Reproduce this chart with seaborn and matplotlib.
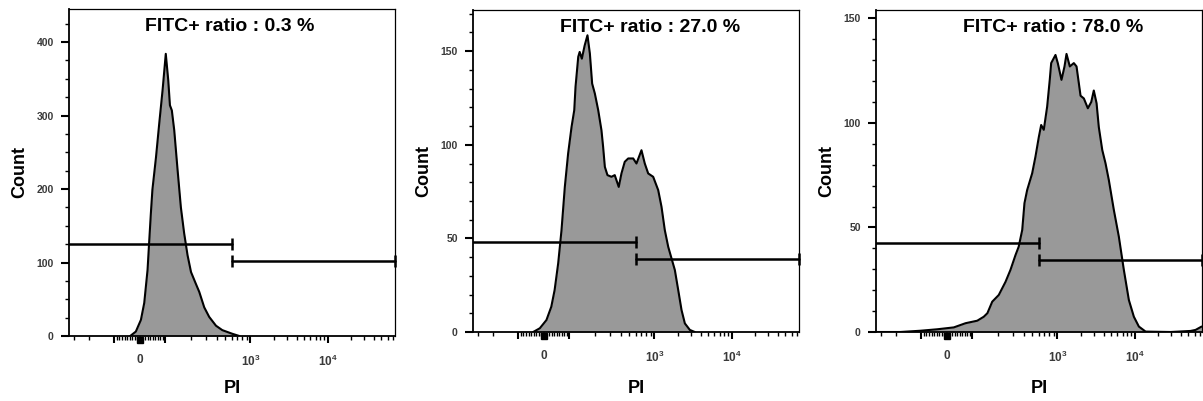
import numpy as np
import seaborn as sns
import matplotlib.pyplot as plt
from matplotlib.ticker import FixedLocator, MultipleLocator

sns.set_theme(style="ticks")
plt.rcParams['font.family'] = ['Liberation Sans', 'DejaVu Sans']
plt.rcParams['font.weight'] = 'bold'
plt.rcParams['text.color'] = 'black'
plt.rcParams['axes.labelcolor'] = 'black'
plt.rcParams['mathtext.fontset'] = 'custom'
plt.rcParams['mathtext.rm'] = 'Liberation Sans'
plt.rcParams['mathtext.bf'] = 'Liberation Sans:bold'
plt.rcParams['mathtext.default'] = 'bf'

# PI histograms (PI intensity, event count)
pi_a = [-38, -16, 4, 17, 30, 36, 43, 49, 63, 76, 89, 101, 108, 113, 119, 127, 139, 152, 166,
        182, 200, 228, 250, 286, 327, 393, 466, 612, 739]
count_a = [0, 6, 22, 45, 90, 126, 167, 199, 243, 290, 335, 384, 348, 314, 307, 280, 226, 175,
           140, 110, 87, 71, 60, 39, 26, 14, 8, 3, 0]

pi_b = [-42, -16, 10, 29, 42, 56, 69, 82, 95, 106, 114, 118, 127, 132, 140, 151, 163, 174, 185,
        199, 218, 238, 249, 261, 280, 312, 341, 380, 409, 447, 491, 562, 614, 703, 769, 843, 965,
        1117, 1233, 1361, 1507, 1837, 2032, 2244, 2477, 2877, 3334]
count_b = [0, 2, 6.4, 13.5, 22.4, 36.7, 54.4, 77.5, 95.4, 109.6, 118.5, 131, 147, 149.6, 146, 153,
           158.5, 148.7, 132.7, 127.4, 118.5, 107.8, 98.9, 88.2, 83.8, 82.9, 83.8, 77.5, 84.7, 90.9,
           92.7, 92.7, 90, 97.1, 90, 84.7, 82.9, 75.8, 66.9, 54.4, 45.5, 33.1, 22.4, 11.7, 4.6, 1.1, 0]

pi_c = [-339, -177, -103, -38, 27, 73, 114, 136, 150, 171, 204, 245, 280, 321, 350, 385, 409, 440,
        504, 551, 603, 643, 690, 756, 811, 843, 947, 1009, 1127, 1233, 1309, 1445, 1629, 1766, 1991,
        2198, 2477, 2742, 2958, 3214, 3436, 3811, 4198, 4634, 5129, 5383, 6252, 7261, 8433, 9795,
        11376, 13900, 29400, 53300, 61900, 74100]
count_c = [0, 0, 0.6, 1.3, 2.2, 4.2, 5.4, 7.3, 9, 14.5, 17.7, 24, 29.7, 36.8, 40.8, 48.8, 61.6, 67.9,
           75.9, 83.9, 93.2, 99, 96.7, 107.8, 120.6, 128.6, 132.5, 128.6, 120.6, 127, 133, 127, 128.6,
           127, 113, 111.7, 107, 110, 115.5, 109.4, 98, 87, 80.7, 72.7, 63, 58.4, 45.6, 29.7, 15.3,
           7.3, 2.6, 0.2, 0, 0.5, 1, 2.6]

titles = ["FITC+ ratio : 0.3 %", "FITC+ ratio : 27.0 %", "FITC+ ratio : 78.0 %"]
gate_split = 600
gate_left = [125, 48, 42.6]
gate_right = [102, 39, 34.5]
y_max = [445, 172, 154]
y_major = [100, 50, 50]
y_minor = [25, 10, 10]

# rough biexponential display: linear near 0, log above 100
LIN, MID = 0.331, 1.104


def fwd(v):
    v = np.asarray(v, float)
    a = np.abs(v)
    lin = a * LIN / 100
    mid = LIN + MID * np.log10(np.clip(a, 100, 1000) / 100)
    hi = LIN + MID + np.log10(np.maximum(a, 1000) / 1000)
    return np.sign(v) * np.where(a <= 100, lin, np.where(a <= 1000, mid, hi))


def inv(d):
    d = np.asarray(d, float)
    a = np.clip(np.abs(d), 0, 12)
    lin = a * 100 / LIN
    mid = 100 * 10 ** ((np.clip(a, LIN, LIN + MID) - LIN) / MID)
    hi = 1000 * 10 ** (np.maximum(a, LIN + MID) - LIN - MID)
    return np.sign(d) * np.where(a <= LIN, lin, np.where(a <= LIN + MID, mid, hi))


x_left = float(inv(-0.92))
x_right = float(inv(3.31))

minor_x = ([-300, -200] + list(range(-90, 0, 10)) + list(range(10, 100, 10))
           + list(range(200, 1000, 100)) + list(range(2000, 10000, 1000))
           + list(range(20000, 80000, 10000)))

fig = plt.figure(figsize=(12.03, 4.01), dpi=100)
boxes = [(69, 9, 336), (473, 10, 332), (876, 10, 332)]
title_x = [0.494, 0.543, 0.544]
series = [(pi_a, count_a), (pi_b, count_b), (pi_c, count_c)]

for i, (pi, cnt) in enumerate(series):
    l, t, b = boxes[i]
    ax = fig.add_axes([l / 1203, (401 - b) / 401, 326 / 1203, (b - t) / 401])
    ax.set_xscale('function', functions=(fwd, inv))

    ax.fill_between(pi, 0, cnt, color='#999999', lw=0)
    sns.lineplot(x=pi, y=cnt, ax=ax, color='black', lw=1.5, estimator=None, sort=False)

    # gates
    ax.plot([x_left, gate_split], [gate_left[i], gate_left[i]], color='black', lw=1.8)
    ax.plot([gate_split], [gate_left[i]], marker='|', ms=9, mew=1.8, color='black')
    ax.plot([gate_split, x_right], [gate_right[i], gate_right[i]], color='black', lw=1.8,
            marker='|', ms=9, mew=1.8, clip_on=False)

    ax.set_xlim(x_left, x_right)
    ax.set_ylim(0, y_max[i])

    ax.xaxis.set_major_locator(FixedLocator([-100, 0, 100, 1000, 10000]))
    ax.xaxis.set_minor_locator(FixedLocator(minor_x))
    ax.set_xticklabels(['', '0', '', r'$10^3$', r'$10^4$'])
    ax.yaxis.set_major_locator(MultipleLocator(y_major[i]))
    ax.yaxis.set_minor_locator(MultipleLocator(y_minor[i]))
    ax.tick_params(axis='x', which='major', length=5, width=1.5, pad=8,
                   labelsize=8.5, labelcolor='#3a3a3a', color='black')
    ax.tick_params(axis='x', which='minor', length=3, width=1, color='black')
    ax.tick_params(axis='y', which='major', length=6, width=1.5, pad=5,
                   labelsize=7.5, labelcolor='#3a3a3a', color='black')
    ax.tick_params(axis='y', which='minor', length=3, width=1, color='black')

    for name, sp in ax.spines.items():
        sp.set_color('black')
        sp.set_linewidth(1.3 if name in ('left', 'bottom') else 0.9)

    # zero marker under the axis
    ax.plot([0], [-0.013], marker='s', ms=5, color='black',
            transform=ax.get_xaxis_transform(), clip_on=False)

    ax.text(title_x[i], 0.945, titles[i], transform=ax.transAxes, ha='center', va='center',
            fontsize=14, fontweight='bold', color='black')
    ax.set_xlabel('PI', fontsize=13, fontweight='bold')
    ax.xaxis.set_label_coords(0.5, -(380 - b) / (b - t))
    ax.set_ylabel('Count', fontsize=13, fontweight='bold')
    ax.yaxis.set_label_coords(-0.124, 0.5)

fig.savefig('out.png', dpi=100)
